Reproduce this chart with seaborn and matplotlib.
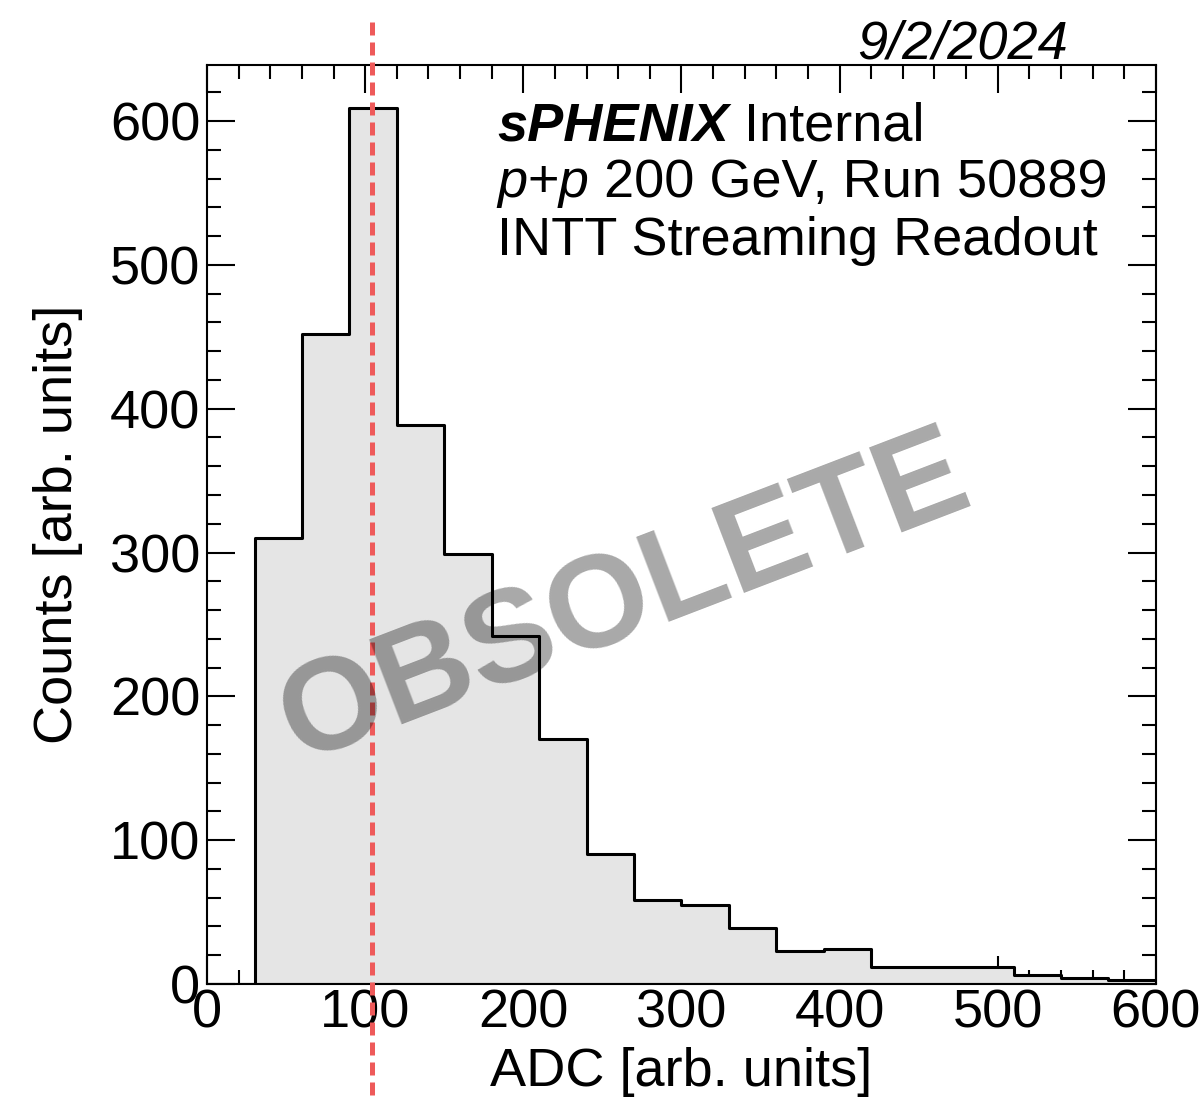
import numpy as np
import pandas as pd
import matplotlib
matplotlib.use("Agg")
import matplotlib.pyplot as plt
from matplotlib.ticker import MultipleLocator
import seaborn as sns

# ADC histogram, 30-wide bins from 0 to 600
bin_edges = list(range(0, 601, 30))
counts = [0, 310, 452, 609, 389, 299, 242, 170, 90, 58,
          55, 39, 23, 24, 12, 12, 12, 6, 4, 3]
cut_adc = 104  # red dashed line

df = pd.DataFrame({"adc": [(a + b) / 2 for a, b in zip(bin_edges[:-1], bin_edges[1:])],
                   "n": counts})

sns.set_theme(style="ticks")
plt.rcParams["font.family"] = ["Liberation Sans", "DejaVu Sans"]
plt.rcParams["axes.linewidth"] = 1.5
plt.rcParams["text.color"] = "black"
plt.rcParams["axes.labelcolor"] = "black"

fig = plt.figure(figsize=(12.04, 11.03), dpi=100)
ax = fig.add_axes([0.172, 0.108, 0.788, 0.833])

sns.histplot(data=df, x="adc", weights="n", bins=bin_edges, element="step",
             fill=True, facecolor="#e5e5e5", edgecolor="black", linewidth=2.2,
             ax=ax, zorder=2)

ax.set_xlim(0, 600)
ax.set_ylim(0, 639)
ax.xaxis.set_major_locator(MultipleLocator(100))
ax.xaxis.set_minor_locator(MultipleLocator(20))
ax.yaxis.set_major_locator(MultipleLocator(100))
ax.yaxis.set_minor_locator(MultipleLocator(20))
ax.tick_params(which="both", direction="in", top=True, right=True, width=1.5,
               colors="black", labelsize=39)
ax.tick_params(which="major", length=20)
ax.tick_params(which="minor", length=10)
ax.tick_params(axis="x", which="major", pad=3)
ax.tick_params(axis="y", which="major", pad=5)
for s in ax.spines.values():
    s.set_color("black")
    s.set_zorder(5)

ax.set_xlabel("ADC [arb. units]", fontsize=39, color="black")
ax.set_ylabel("Counts [arb. units]", fontsize=39, color="black")
ax.xaxis.set_label_coords(0.5, -0.069)
ax.yaxis.set_label_coords(-0.131, 0.5)

# watermark
fig.text(0.519, 0.456, "OBSOLETE", fontsize=95, fontweight="bold",
         color="black", alpha=0.34, rotation=21, rotation_mode="anchor",
         ha="center", va="center", zorder=10)

ax.axvline(cut_adc, ymin=-0.121, ymax=1.054, color="#ee5a5a", lw=3.6,
           ls=(0, (2.6, 1.4)), clip_on=False, zorder=20)


def mixed_line(parts, x, y, size=39):
    # draw pieces of text one after another on the same baseline
    fig.canvas.draw()
    r = fig.canvas.get_renderer()
    cur = x
    for txt, style, weight in parts:
        t = ax.text(cur, y, txt, transform=ax.transAxes, fontsize=size,
                    fontstyle=style, fontweight=weight, va="baseline",
                    ha="left", zorder=15, color="black")
        bb = t.get_window_extent(renderer=r)
        cur = ax.transAxes.inverted().transform((bb.x1, bb.y0))[0]


mixed_line([("sPHENIX", "italic", "bold"), (" Internal", "normal", "normal")],
           0.3056, 0.918)
mixed_line([("p+p", "italic", "normal"), (" 200 GeV, Run 50889", "normal", "normal")],
           0.3056, 0.856)
mixed_line([("INTT Streaming Readout", "normal", "normal")], 0.3056, 0.793)

fig.text(0.887, 0.947, "9/2/2024", fontsize=39, fontstyle="italic",
         ha="right", va="baseline", color="black")

fig.savefig("out.png", dpi=100)
